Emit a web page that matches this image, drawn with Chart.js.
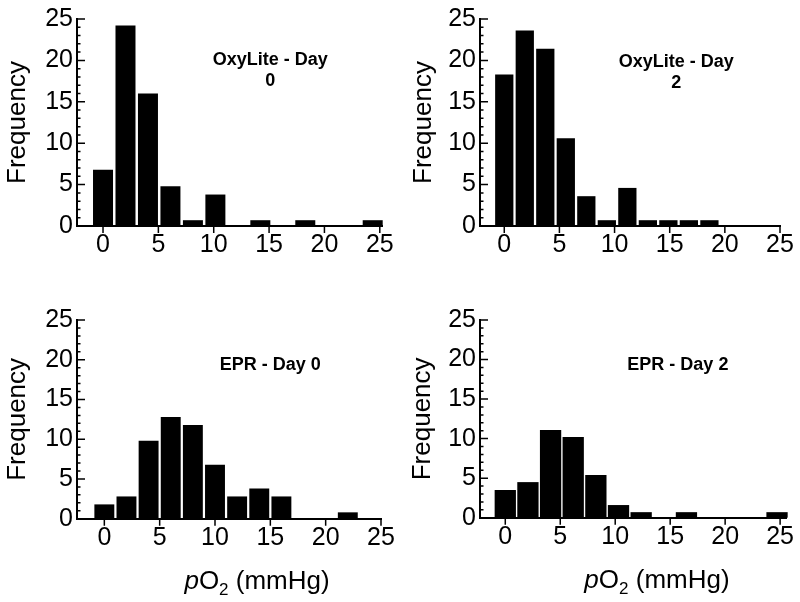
<!DOCTYPE html>
<html lang="en">
<head>
<meta charset="UTF-8">
<title>pO2 histograms - OxyLite vs EPR</title>
<script src="https://cdn.jsdelivr.net/npm/chart.js@4.4.1/dist/chart.umd.min.js"></script>
<style>
    html, body { margin: 0; padding: 0; background: #fff; }
    #wrap { position: relative; width: 800px; height: 602px; }
    #wrap canvas { position: absolute; }
</style>
</head>
<body>
<div id="wrap">
    <canvas id="oxy0" width="400" height="301" style="left:0;top:0"></canvas>
    <canvas id="oxy2" width="400" height="301" style="left:400px;top:0"></canvas>
    <canvas id="epr0" width="400" height="301" style="left:0;top:301px"></canvas>
    <canvas id="epr2" width="400" height="301" style="left:400px;top:301px"></canvas>
</div>
<script>
// tick labels shared by every panel
const axisTicks = [0, 5, 10, 15, 20, 25];

// OxyLite - Day 0
const oxyDay0Bins = [0, 2.03, 4.06, 6.09, 8.12, 10.15, 12.18, 14.21, 16.24, 18.27, 20.3, 22.33, 24.36];
const oxyDay0Freq = [6.8, 24.2, 16, 4.8, 0.7, 3.8, 0, 0.7, 0, 0.7, 0, 0, 0.7];

// OxyLite - Day 2
const oxyDay2Bins = [0, 1.86, 3.72, 5.58, 7.44, 9.3, 11.16, 13.02, 14.88, 16.74, 18.6];
const oxyDay2Freq = [18.3, 23.6, 21.4, 10.6, 3.6, 0.7, 4.6, 0.7, 0.7, 0.7, 0.7];

// EPR - Day 0
const eprDay0Bins = [0, 2, 4, 6, 8, 10, 12, 14, 16, 18, 20, 22];
const eprDay0Freq = [1.8, 2.8, 9.8, 12.8, 11.8, 6.8, 2.8, 3.8, 2.8, 0, 0, 0.8];

// EPR - Day 2
const eprDay2Bins = [0, 2.06, 4.12, 6.18, 8.24, 10.3, 12.36, 14.42, 16.48, 18.54, 20.6, 22.66, 24.72];
const eprDay2Freq = [3.5, 4.5, 11.1, 10.2, 5.4, 1.6, 0.7, 0, 0.7, 0, 0, 0, 0.7];

const FONT = "'Liberation Sans', Arial, Helvetica, sans-serif";
Chart.defaults.font.family = FONT;
Chart.defaults.color = '#000';

// inward y ticks (major + minor), outward x ticks, panel label, x title
const panelDecor = {
    id: 'panelDecor',
    afterDraw(chart, args, opts) {
        const ctx = chart.ctx;
        const xs = chart.scales.x, ys = chart.scales.y, a = chart.chartArea;
        ctx.save();
        ctx.strokeStyle = '#000';
        ctx.lineWidth = 1.5;
        ctx.beginPath();
        for (let v = 0; v <= 25; v++) {
            const py = ys.getPixelForValue(v);
            const len = v % 5 === 0 ? 8 : 3.5;
            ctx.moveTo(a.left, py);
            ctx.lineTo(a.left + len, py);
        }
        axisTicks.forEach(v => {
            const px = xs.getPixelForValue(v);
            ctx.moveTo(px, a.bottom);
            ctx.lineTo(px, a.bottom + 7);
        });
        ctx.stroke();

        ctx.fillStyle = '#000';
        ctx.font = 'bold 18px ' + FONT;
        ctx.textAlign = 'center';
        ctx.textBaseline = 'middle';
        const tx = xs.getPixelForValue(opts.labelX);
        const ty = ys.getPixelForValue(opts.labelY);
        opts.lines.forEach((t, i) => ctx.fillText(t, tx, ty + i * 20.5));

        if (opts.xTitle) {
            const parts = [
                {t: 'p', f: 'italic 26px ' + FONT, dy: 0},
                {t: 'O', f: '26px ' + FONT, dy: 0},
                {t: '2', f: '17px ' + FONT, dy: 6},
                {t: ' (mmHg)', f: '26px ' + FONT, dy: 0}
            ];
            let w = 0;
            parts.forEach(p => { ctx.font = p.f; p.w = ctx.measureText(p.t).width; w += p.w; });
            let x = xs.getPixelForValue(opts.titleX) - w / 2;
            const y = a.bottom + 70;
            ctx.textAlign = 'left';
            ctx.textBaseline = 'alphabetic';
            parts.forEach(p => { ctx.font = p.f; ctx.fillText(p.t, x, y + p.dy); x += p.w; });
        }
        ctx.restore();
    }
};

function makePanel(id, bins, freq, p) {
    return new Chart(document.getElementById(id), {
        type: 'bar',
        data: {
            datasets: [{
                data: bins.map((b, i) => ({x: b, y: freq[i]})),
                backgroundColor: '#000',
                borderWidth: 0,
                barPercentage: p.barPct,
                categoryPercentage: 1,
                clip: false
            }]
        },
        options: {
            responsive: false,
            animation: false,
            events: [],
            layout: {
                autoPadding: false,
                padding: {left: 0, right: p.padRight, top: p.top, bottom: 0}
            },
            plugins: {
                legend: {display: false},
                tooltip: {enabled: false},
                panelDecor: {
                    lines: p.lines, labelX: p.labelX, labelY: p.labelY,
                    xTitle: p.xTitle, titleX: 13.8
                }
            },
            scales: {
                x: {
                    type: 'linear',
                    offset: false,
                    min: p.xMin, max: p.xMax,
                    afterFit(s) { s.height = 301 - p.bottom; },
                    afterBuildTicks(s) { s.ticks = axisTicks.map(v => ({value: v})); },
                    grid: {display: false, drawTicks: false, offset: false},
                    border: {display: true, color: '#000', width: 2},
                    ticks: {font: {size: 25}, color: '#000', padding: 4, maxRotation: 0}
                },
                y: {
                    min: 0, max: 25,
                    afterFit(s) { s.width = p.left; },
                    afterBuildTicks(s) { s.ticks = axisTicks.map(v => ({value: v})); },
                    grid: {display: false, drawTicks: false},
                    border: {display: true, color: '#000', width: 2},
                    ticks: {font: {size: 25}, color: '#000', padding: 4},
                    title: {
                        display: true, text: 'Frequency', color: '#000',
                        font: {size: 26}, padding: {top: p.titlePad, bottom: 0}
                    }
                }
            }
        },
        plugins: [panelDecor]
    });
}

makePanel('oxy0', oxyDay0Bins, oxyDay0Freq, {
    left: 77, padRight: 18, top: 18, bottom: 226, xMin: -2.35, xMax: 25.2,
    titlePad: 2.4, barPct: 0.89, lines: ['OxyLite - Day', '0'], labelX: 15.1, labelY: 20, xTitle: false
});
makePanel('oxy2', oxyDay2Bins, oxyDay2Freq, {
    left: 80, padRight: 20, top: 16.7, bottom: 226, xMin: -2.2, xMax: 25,
    titlePad: 8, barPct: 0.89, lines: ['OxyLite - Day', '2'], labelX: 15.6, labelY: 19.8, xTitle: false
});
makePanel('epr0', eprDay0Bins, eprDay0Freq, {
    left: 77, padRight: 19, top: 9.7, bottom: 217.7, xMin: -2.47, xMax: 25,
    titlePad: 2.4, barPct: 0.9, lines: ['EPR - Day 0'], labelX: 15.0, labelY: 19.3, xTitle: true
});
makePanel('epr2', eprDay2Bins, eprDay2Freq, {
    left: 80, padRight: 13.3, top: 8.3, bottom: 216.7, xMin: -2.3, xMax: 25.6,
    titlePad: 7, barPct: 0.94, lines: ['EPR - Day 2'], labelX: 15.7, labelY: 19.3, xTitle: true
});
</script>
</body>
</html>
